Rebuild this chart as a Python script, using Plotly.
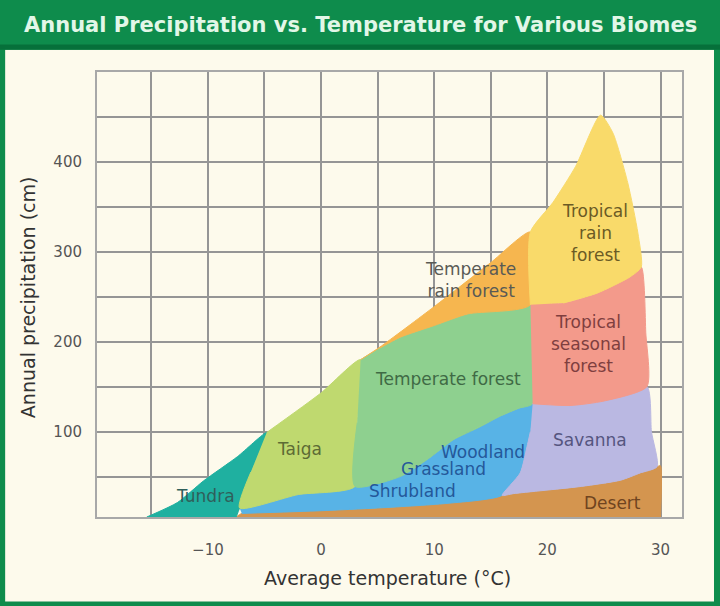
import plotly.graph_objects as go

# biome outlines: average temperature (C) vs annual precipitation (cm)
tundra_t = [-15.4, -12.7, -10.4, -7.4, -4.8, -6.2, -7.2, -7.5]
tundra_p = [5, 21, 45, 72, 99, 55, 15, 5]

taiga_t = [-4.8, 0, 3.5, 3.2, 3.0, -2, -7.2, -6.2]
taiga_p = [99, 143, 180, 110, 39, 30, 15, 55]

temp_forest_t = [3.5, 5.2, 7, 10, 13, 18.5, 18.7, 17.5, 15.8, 14, 11.7, 9.5, 7, 3, 3.2]
temp_forest_p = [180, 193, 205, 218, 231, 241, 131, 126, 117, 105, 91, 70, 50, 39, 110]

temp_rain_t = [3.5, 5.2, 10, 15, 18.5, 18.5, 13, 10, 7, 5.2]
temp_rain_p = [180, 194, 239, 288, 322, 241, 231, 218, 205, 193]

woodland_t = [-7.2, -2, 3, 7, 9.5, 11.7, 14, 15.8, 17.5, 18.7, 18.5, 18.2, 17.6, 16, 11, 5, 0, -7]
woodland_p = [15, 30, 39, 50, 70, 91, 105, 117, 126, 131, 100, 83, 54, 29, 20, 15, 12, 9]

desert_t = [-7.5, -7, 0, 5, 11, 16, 17, 23, 26.5, 28.2, 29.7, 30, 30]
desert_p = [5, 9, 12, 15, 20, 29, 31, 39, 46, 54, 61, 62, 5]

savanna_t = [18.7, 22, 25, 28.8, 29.2, 29.7, 28.2, 26.5, 23, 17, 16, 17.6, 18.2, 18.5]
savanna_p = [131, 129, 134, 150, 100, 61, 54, 46, 39, 31, 29, 54, 83, 100]

trop_seasonal_t = [18.5, 21.4, 24.4, 27.3, 28.3, 28.7, 28.8, 25, 22, 18.7]
trop_seasonal_p = [243, 243, 254, 272, 283, 210, 150, 134, 129, 131]

trop_rain_t = [18.5, 18.5, 20.5, 22.5, 24.7, 25.8, 27.1, 28, 28.3, 27.3, 24.4, 21.4]
trop_rain_p = [241, 322, 355, 395, 452, 432, 377, 321, 283, 272, 254, 243]

# labels
label_text = ['Tundra', 'Taiga', 'Temperate forest', 'Temperate<br>rain forest',
              'Tropical<br>rain<br>forest', 'Tropical<br>seasonal<br>forest', 'Savanna',
              'Woodland', 'Grassland', 'Shrubland', 'Desert']
label_t = [-10.2, -1.9, 11.2, 13.2, 24.2, 23.6, 23.8, 14.3, 10.8, 8.1, 25.8]
label_p = [28, 81, 158, 269, 321, 197, 91, 77, 58, 34, 21]
label_color = ['#2f5f5a', '#5d6b35', '#3f6a45', '#5a5a55', '#6b5a25', '#7f3f3f',
               '#55557f', '#24589a', '#24589a', '#24589a', '#6f4420']

x_ticks = [-15, -10, -5, 0, 5, 10, 15, 20, 25, 30]
x_text = ['', '\u221210', '', '0', '', '10', '', '20', '', '30']
y_ticks = [50, 100, 150, 200, 250, 300, 350, 400, 450, 500]
y_text = ['', '100', '', '200', '', '300', '', '400', '', '']

biomes = [
    (desert_t, desert_p, '#d4954f'),
    (woodland_t, woodland_p, '#58b3e6'),
    (tundra_t, tundra_p, '#1fb0a0'),
    (taiga_t, taiga_p, '#bfd96f'),
    (temp_forest_t, temp_forest_p, '#8ed08f'),
    (temp_rain_t, temp_rain_p, '#f6b64f'),
    (savanna_t, savanna_p, '#bab8e2'),
    (trop_seasonal_t, trop_seasonal_p, '#f39a8b'),
    (trop_rain_t, trop_rain_p, '#f9da6a'),
]

fig = go.Figure()
for t, p, c in biomes:
    fig.add_trace(go.Scatter(x=t, y=p, fill='toself', fillcolor=c, mode='lines',
                             line=dict(color=c, width=1, shape='spline', smoothing=0.6),
                             hoverinfo='skip', showlegend=False))

for txt, t, p, c in zip(label_text, label_t, label_p, label_color):
    fig.add_annotation(x=t, y=p, text=txt, showarrow=False,
                       font=dict(family='DejaVu Sans', size=17, color=c))

# frame and header
fig.add_shape(type='rect', xref='paper', yref='paper', layer='below',
              x0=-0.157, x1=1.0547, y0=-0.19, y1=1.05,
              fillcolor='#fdfaec', line_width=0)
fig.add_shape(type='rect', xref='paper', yref='paper', layer='below',
              x0=-0.2, x1=1.1, y0=1.05, y1=1.062,
              fillcolor='#06703a', line_width=0)
fig.add_annotation(xref='paper', yref='paper', x=0.4496, y=1.106, showarrow=False,
                   xanchor='center', yanchor='middle',
                   text='<b>Annual Precipitation vs. Temperature for Various Biomes</b>',
                   font=dict(family='DejaVu Sans', size=21, color='#e2f7e8'))
fig.add_annotation(xref='paper', yref='paper', x=-0.118, y=0.494, showarrow=False,
                   xanchor='center', yanchor='middle',
                   textangle=-90, text='Annual precipitation (cm)',
                   font=dict(family='DejaVu Sans', size=19, color='#333333'))
fig.add_annotation(xref='paper', yref='paper', x=0.497, y=-0.137, showarrow=False,
                   xanchor='center', yanchor='middle',
                   text='Average temperature (\u00b0C)',
                   font=dict(family='DejaVu Sans', size=19, color='#333333'))

fig.update_xaxes(range=[-19.8, 31.9], tickvals=x_ticks, ticktext=x_text,
                 showgrid=True, gridcolor='#959595', gridwidth=1.5,
                 showline=True, linecolor='#a8a8a8', linewidth=2, mirror=True,
                 zeroline=False, ticks='', ticklabelstandoff=18,
                 tickfont=dict(family='DejaVu Sans', size=15, color='#555555'))
fig.update_yaxes(range=[5, 500], tickvals=y_ticks, ticktext=y_text,
                 showgrid=True, gridcolor='#959595', gridwidth=1.5,
                 showline=True, linecolor='#a8a8a8', linewidth=2, mirror=True,
                 zeroline=False, ticks='', ticklabelstandoff=10,
                 tickfont=dict(family='DejaVu Sans', size=15, color='#555555'))

fig.update_layout(width=720, height=606,
                  margin=dict(l=97, r=38, t=72, b=89),
                  paper_bgcolor='#0e8c4c', plot_bgcolor='#ffffff')

fig.write_html("out.html", config={'displayModeBar': False},
               post_script="document.body.style.margin='0';")
